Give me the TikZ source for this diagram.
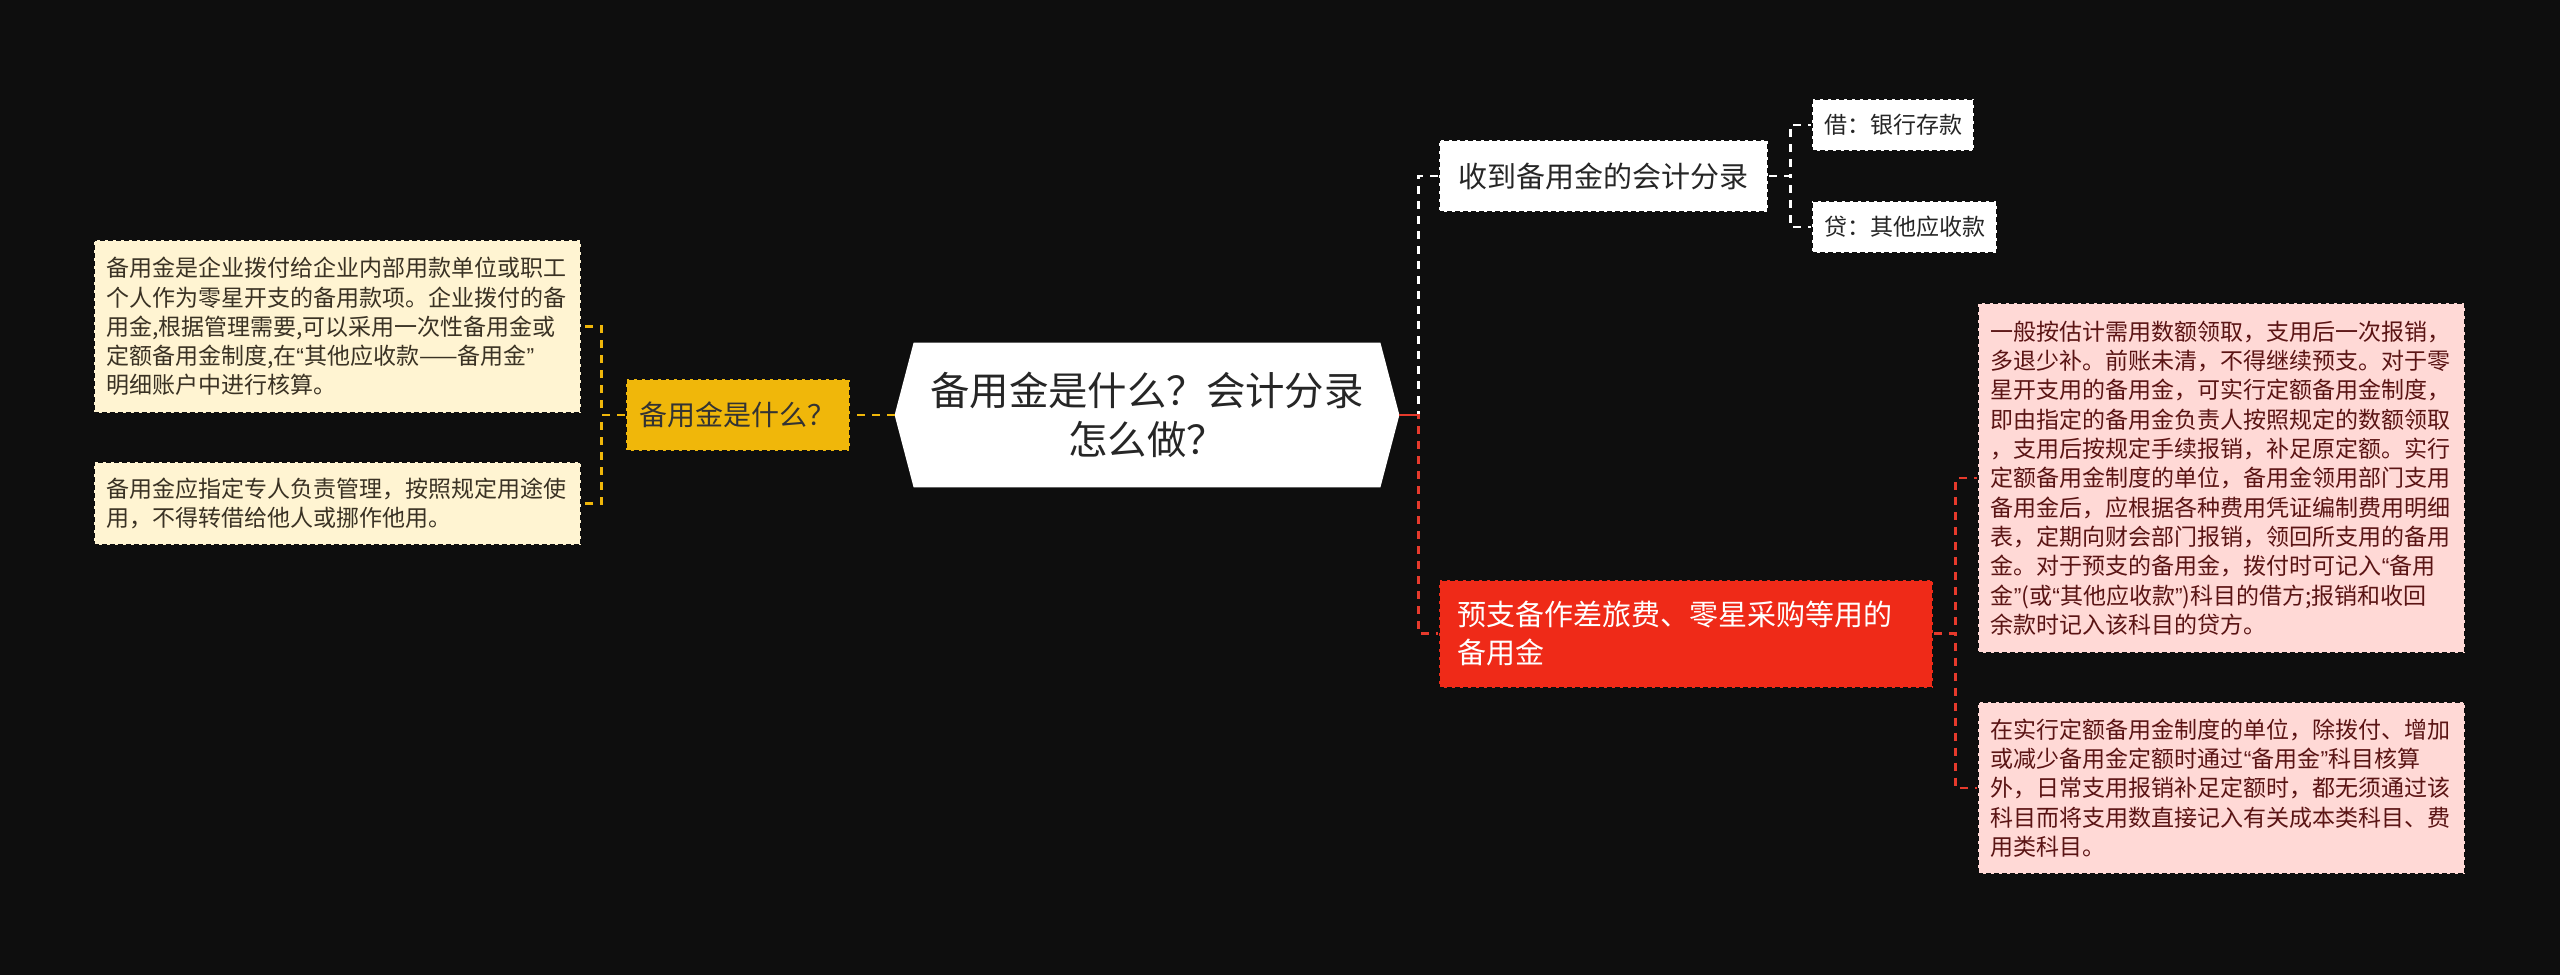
\documentclass[tikz,border=0pt]{standalone}
\usepackage{fontspec}
\setmainfont{Noto Sans CJK SC}
\newfontfamily\quofont{Liberation Sans}
\newcommand{\mmlq}{{\quofont “}}
\newcommand{\mmrq}{{\quofont ”}}
\usepackage{tikz}
\usetikzlibrary{
  positioning,
  backgrounds
}
\definecolor{mmBg}{HTML}{0E0E0E}
\definecolor{mmYellow}{HTML}{F0B70A}
\definecolor{mmCream}{HTML}{FFF4D2}
\definecolor{mmInk}{HTML}{3A3224}
\definecolor{mmRed}{HTML}{EF2A18}
\definecolor{mmRedLine}{HTML}{E63A2C}
\definecolor{mmPink}{HTML}{FFD9D6}
\definecolor{mmMaroon}{HTML}{5A1414}
\tikzset{
  mmnode/.style={
    draw=mmBg, dash pattern=on 2.5pt off 1.5pt, line width=1pt,
    inner ysep=0pt, align=center
  },
  rootbox/.style={minimum width=252pt, minimum height=72pt, inner sep=0pt, align=center,
    text=black!85, font=\fontsize{19.7pt}{24.5pt}\selectfont},
  asknode/.style={mmnode, fill=mmYellow, text=black!80, minimum width=112pt, minimum height=36pt,
    inner xsep=0pt, font=\fontsize{14pt}{17pt}\selectfont},
  notebox/.style={mmnode, fill=mmCream, text=mmInk, text width=231pt, inner xsep=6.25pt,
    align=left, font=\fontsize{11.5pt}{14.6pt}\selectfont},
  entrynode/.style={mmnode, fill=white, text=black!85, minimum width=164.5pt, minimum height=36pt,
    inner xsep=0pt, font=\fontsize{14.5pt}{17pt}\selectfont},
  leafnode/.style={mmnode, fill=white, text=black!85, minimum height=26pt, inner xsep=6pt,
    font=\fontsize{11.5pt}{14pt}\selectfont},
  warnnode/.style={mmnode, fill=mmRed, text=white, text width=229pt, inner xsep=9pt,
    minimum height=54pt, align=left, font=\fontsize{14.5pt}{18.8pt}\selectfont},
  rulebox/.style={notebox, fill=mmPink, text=mmMaroon, font=\fontsize{11.5pt}{14.67pt}\selectfont},
  link/.style={line width=1.3pt, dash pattern=on 4pt off 3.5pt},
  ylwlink/.style={link, mmYellow},
  whtlink/.style={link, white},
  redlink/.style={link, mmRedLine},
  redstub/.style={line width=1.3pt, mmRedLine}
}

\begin{document}
\begin{tikzpicture}[node distance=20pt]
  \useasboundingbox (0pt,0pt) rectangle (1280pt,-487.5pt);
  \node[rootbox] (root) at (573.5pt,-207.5pt) {备用金是什么？会计分录\\怎么做？};
  \node[asknode, left=22pt of root] (ask) {备用金是什么？};
  \node[notebox, minimum height=86.5pt, left=21.5pt of ask, yshift=44.25pt] (def) {备用金是企业拨付给企业内部用款单位或职工\\个人作为零星开支的备用款项。企业拨付的备\\用金,根据管理需要,可以采用一次性备用金或\\定额备用金制度,在\mmlq 其他应收款——备用金\mmrq\\明细账户中进行核算。};
  \node[notebox, minimum height=41.5pt, left=21.5pt of ask, yshift=-44.25pt] (use) {备用金应指定专人负责管理，按照规定用途使\\用，不得转借给他人或挪作他用。};
  \node[entrynode, right=19.5pt of root, yshift=119.5pt] (entry) {收到备用金的会计分录};
  \node[warnnode, right=19.5pt of root, yshift=-109.25pt] (advance) {预支备作差旅费、零星采购等用的\\备用金};
  \node[leafnode, right=21pt of entry, yshift=25.5pt] (dr) {借：银行存款};
  \node[leafnode, right=21pt of entry, yshift=-25.5pt] (cr) {贷：其他应收款};
  \node[rulebox, minimum height=175pt, right=21.5pt of advance, yshift=77.75pt] (quota) {一般按估计需用数额领取，支用后一次报销，\\多退少补。前账未清，不得继续预支。对于零\\星开支用的备用金，可实行定额备用金制度，\\即由指定的备用金负责人按照规定的数额领取\\，支用后按规定手续报销，补足原定额。实行\\定额备用金制度的单位，备用金领用部门支用\\备用金后，应根据各种费用凭证编制费用明细\\表，定期向财会部门报销，领回所支用的备用\\金。对于预支的备用金，拨付时可记入\mmlq 备用\\金\mmrq(或\mmlq 其他应收款\mmrq)科目的借方;报销和收回\\余款时记入该科目的贷方。};
  \node[rulebox, minimum height=86pt, right=21.5pt of advance, yshift=-77.25pt] (fixed) {在实行定额备用金制度的单位，除拨付、增加\\或减少备用金定额时通过\mmlq 备用金\mmrq 科目核算\\外，日常支用报销补足定额时，都无须通过该\\科目而将支用数直接记入有关成本类科目、费\\用类科目。};
  \draw[ylwlink] (root.west) -- (ask.east);
  \foreach \n in {def,use}{\draw[ylwlink] (ask.west) -- ++(-11.5pt,0) |- (\n.east);}
  \draw[whtlink] (root.east) -- ++(9.5pt,0) |- (entry.west);
  \draw[redlink] (root.east) -- ++(9.5pt,0) |- (advance.west);
  \draw[redstub] (root.east) -- ++(9.5pt,0);
  \foreach \n in {dr,cr}{\draw[whtlink] (entry.east) -- ++(10.5pt,0) |- (\n.west);}
  \foreach \n in {quota,fixed}{\draw[redlink] (advance.east) -- ++(10.5pt,0) |- (\n.west);}
  \begin{scope}[on background layer]
    \fill[mmBg] (0pt,0pt) rectangle (1280pt,-487.5pt);
    \fill[white] (root.west) -- ([xshift=9.5pt]root.north west) -- ([xshift=-9.5pt]root.north east)
      -- (root.east) -- ([xshift=-9.5pt]root.south east) -- ([xshift=9.5pt]root.south west) -- cycle;
  \end{scope}
\end{tikzpicture}
\end{document}
